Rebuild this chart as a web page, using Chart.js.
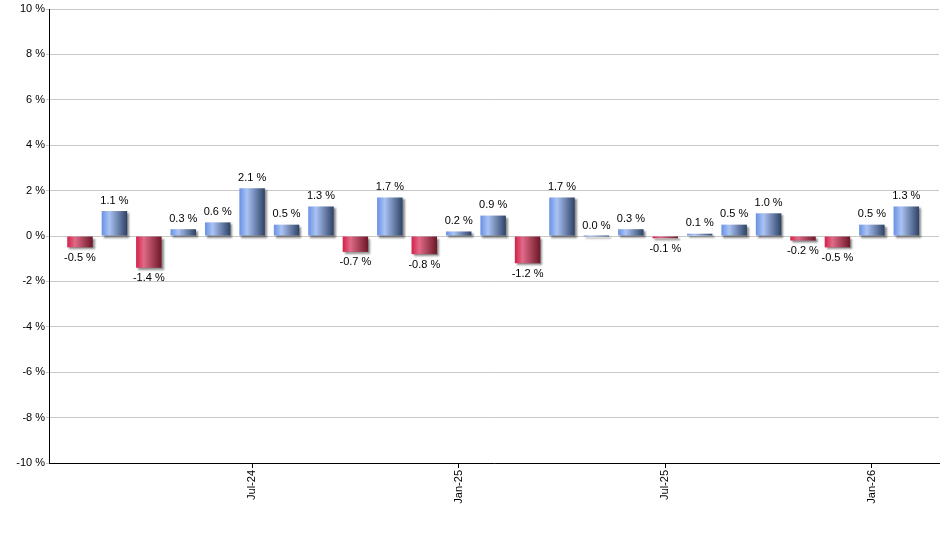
<!DOCTYPE html>
<html>
<head>
<meta charset="utf-8">
<script src="https://cdn.jsdelivr.net/npm/chart.js@4/dist/chart.umd.min.js"></script>
<style>
  html, body { margin: 0; padding: 0; background: #fff; }
  #wrap { width: 940px; height: 550px; }
</style>
</head>
<body>
<div id="wrap"><canvas id="monthChart" width="940" height="550"></canvas></div>
<script>
// monthly change, Feb-24 .. Feb-26
const months = ['Feb-24', 'Mar-24', 'Apr-24', 'May-24', 'Jun-24', 'Jul-24', 'Aug-24', 'Sep-24', 'Oct-24',
    'Nov-24', 'Dec-24', 'Jan-25', 'Feb-25', 'Mar-25', 'Apr-25', 'May-25', 'Jun-25', 'Jul-25', 'Aug-25',
    'Sep-25', 'Oct-25', 'Nov-25', 'Dec-25', 'Jan-26', 'Feb-26'];
const changes = [-0.5, 1.1, -1.4, 0.3, 0.6, 2.1, 0.5, 1.3, -0.7, 1.7, -0.8, 0.2, 0.9, -1.2, 1.7, 0.0,
    0.3, -0.1, 0.1, 0.5, 1.0, -0.2, -0.5, 0.5, 1.3];
const tickMonths = ['Jul-24', 'Jan-25', 'Jul-25', 'Jan-26'];
const yTicks = [-10, -8, -6, -4, -2, 0, 2, 4, 6, 8, 10];

const BAR_PCT = 0.74;

Chart.defaults.font.family = '"Liberation Sans", Arial, sans-serif';
Chart.defaults.font.size = 11;
Chart.defaults.color = '#000';

function barGradient(c) {
    if (c.type !== 'data') return '#6a92e6';
    const x = c.chart.scales.x;
    if (!x) return '#6a92e6';
    const center = x.getPixelForValue(c.dataIndex);
    const half = (x.getPixelForValue(1) - x.getPixelForValue(0)) * BAR_PCT / 2;
    if (!isFinite(center) || !isFinite(half) || half <= 0) return '#6a92e6';
    const g = c.chart.ctx.createLinearGradient(center - half, 0, center + half, 0);
    if (changes[c.dataIndex] < 0) {
        g.addColorStop(0, '#d41f48');
        g.addColorStop(0.3, '#e06a88');
        g.addColorStop(1, '#6c1727');
    } else {
        g.addColorStop(0, '#6890e4');
        g.addColorStop(0.3, '#aac3f4');
        g.addColorStop(1, '#2e4266');
    }
    return g;
}

// shadow under the bars + value labels
const barExtras = {
    id: 'barExtras',
    beforeDatasetsDraw(chart) {
        const ctx = chart.ctx;
        ctx.save();
        ctx.shadowColor = 'rgba(0,0,0,0.45)';
        ctx.shadowOffsetX = 2;
        ctx.shadowOffsetY = 2;
        ctx.shadowBlur = 2;
    },
    afterDatasetsDraw(chart) {
        const ctx = chart.ctx;
        ctx.restore();
        ctx.save();
        ctx.font = '11px "Liberation Sans", Arial, sans-serif';
        ctx.fillStyle = '#000';
        ctx.textAlign = 'center';
        chart.getDatasetMeta(0).data.forEach(function (bar, i) {
            const v = changes[i];
            const text = v.toFixed(1) + ' %';
            if (v < 0) {
                ctx.textBaseline = 'top';
                ctx.fillText(text, bar.x, bar.y + 5);
            } else {
                ctx.textBaseline = 'bottom';
                ctx.fillText(text, bar.x, bar.y - 5);
            }
        });
        ctx.restore();
    }
};

new Chart(document.getElementById('monthChart').getContext('2d'), {
    type: 'bar',
    data: {
        datasets: [{
            data: changes.map((v, i) => ({ x: i, y: v })),
            backgroundColor: barGradient,
            borderWidth: 0,
            minBarLength: 1,
            barPercentage: BAR_PCT,
            categoryPercentage: 1
        }]
    },
    options: {
        responsive: false,
        animation: false,
        layout: { padding: { top: 9, right: 1, left: 0, bottom: 0 } },
        plugins: {
            legend: { display: false },
            tooltip: { enabled: false }
        },
        scales: {
            x: {
                type: 'linear',
                offset: false,
                min: -0.9,
                max: 24.95,
                afterBuildTicks: function (scale) {
                    scale.ticks = tickMonths.map(m => ({ value: months.indexOf(m) }));
                },
                afterFit: function (scale) { scale.height = 87; },
                ticks: {
                    minRotation: 90,
                    maxRotation: 90,
                    padding: 2,
                    color: '#000',
                    callback: function (value) { return months[value]; }
                },
                grid: {
                    offset: false,
                    drawOnChartArea: false,
                    drawTicks: true,
                    tickLength: 5,
                    tickColor: '#000'
                },
                border: { display: true, color: '#000', width: 1 }
            },
            y: {
                min: -10,
                max: 10,
                afterBuildTicks: function (scale) {
                    scale.ticks = yTicks.map(v => ({ value: v }));
                },
                afterFit: function (scale) { scale.width = 49; },
                ticks: {
                    padding: 1,
                    color: '#000',
                    callback: function (value) { return value + ' %'; }
                },
                grid: {
                    color: '#c8c8c8',
                    tickLength: 3,
                    tickColor: '#c8c8c8'
                },
                border: { display: true, color: '#000', width: 1 }
            }
        }
    },
    plugins: [barExtras]
});
</script>
</body>
</html>
